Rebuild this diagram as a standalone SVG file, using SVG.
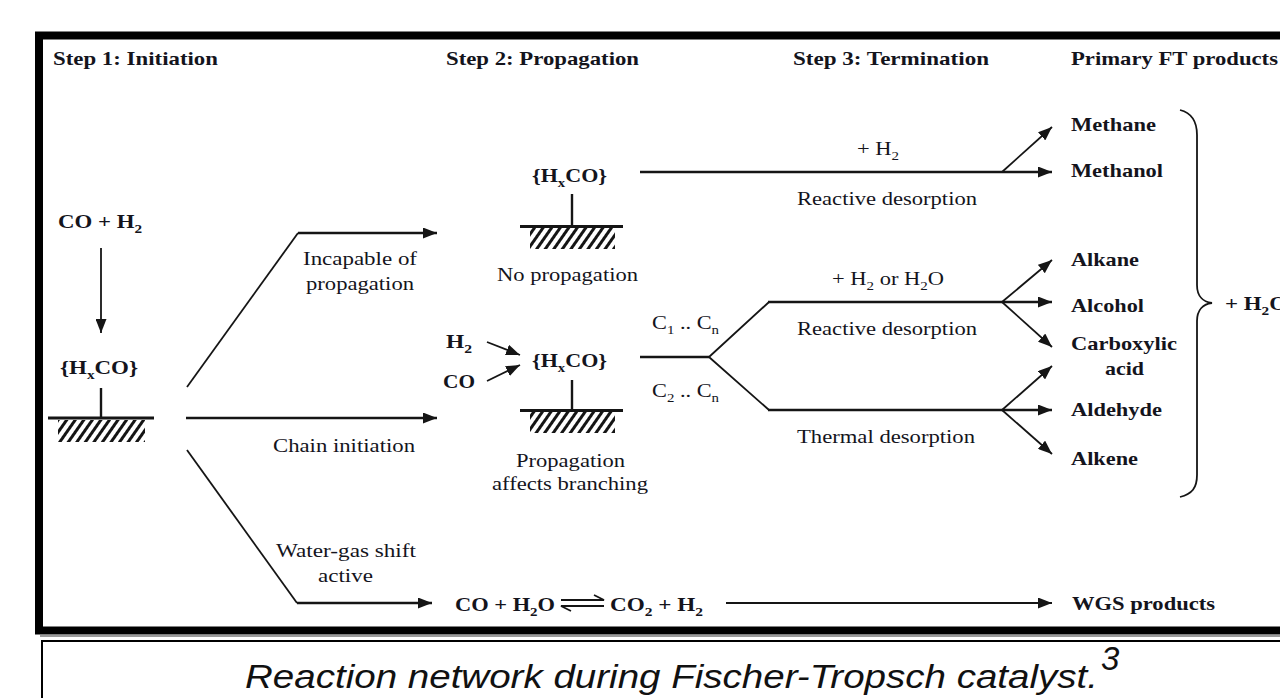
<svg xmlns="http://www.w3.org/2000/svg" width="1280" height="698" viewBox="0 0 1280 698">
<style>
.t{font-family:"Liberation Serif","Times New Roman",serif;font-size:19.5px;fill:#14141c}
.b{font-weight:bold}
.s{font-size:13px}
.ln{stroke:#151515;stroke-width:2.4;fill:none}
.dg{stroke:#151515;stroke-width:1.8;fill:none}
.surf{stroke:#151515;stroke-width:3;fill:none}
.cap{font-family:"Liberation Sans",Arial,sans-serif;font-style:italic;font-size:33px;fill:#111}
</style>
<defs>
<marker id="ah" markerUnits="userSpaceOnUse" markerWidth="14" markerHeight="11" refX="14" refY="5.5" orient="auto">
<path d="M0,0 L14,5.5 L0,11 z" fill="#151515"/>
</marker>
<pattern id="hatch" patternUnits="userSpaceOnUse" width="7" height="7" patternTransform="rotate(35)">
<rect width="3" height="7" fill="#151515"/>
</pattern>
</defs>
<rect width="1280" height="698" fill="#fff"/>
<!-- frame -->
<rect x="39" y="35.5" width="1300" height="595" fill="none" stroke="#000" stroke-width="8"/>
<line x1="40" y1="636" x2="1280" y2="636" stroke="#9a9a9a" stroke-width="2"/>

<g id="headers">
<text class="t b" x="53" y="65" textLength="165" lengthAdjust="spacingAndGlyphs">Step 1: Initiation</text>
<text class="t b" x="446" y="65" textLength="193" lengthAdjust="spacingAndGlyphs">Step 2: Propagation</text>
<text class="t b" x="793" y="65" textLength="196" lengthAdjust="spacingAndGlyphs">Step 3: Termination</text>
<text class="t b" x="1071" y="65" textLength="207" lengthAdjust="spacingAndGlyphs">Primary FT products</text>
</g>

<g id="co-h2">
<text class="t b" x="58" y="228" textLength="84" lengthAdjust="spacingAndGlyphs">CO + H<tspan class="s" dy="5">2</tspan></text>
</g>

<g id="adsorbed-initiation">
<text class="t b" x="60" y="374" textLength="78" lengthAdjust="spacingAndGlyphs">{H<tspan class="s" dy="5">x</tspan><tspan dy="-5">CO}</tspan></text>
<line class="ln" x1="101" y1="388" x2="101" y2="417"/>
<rect x="58" y="420" width="87" height="22" fill="url(#hatch)"/>
<line class="surf" x1="48" y1="418" x2="154" y2="418"/>
</g>

<g id="adsorbed-noprop">
<text class="t b" x="532" y="182" textLength="75" lengthAdjust="spacingAndGlyphs">{H<tspan class="s" dy="5">x</tspan><tspan dy="-5">CO}</tspan></text>
<line class="ln" x1="572" y1="194" x2="572" y2="225"/>
<rect x="530" y="228" width="85" height="21" fill="url(#hatch)"/>
<line class="surf" x1="520" y1="226.5" x2="623" y2="226.5"/>
<text class="t" x="497" y="281" textLength="141" lengthAdjust="spacingAndGlyphs">No propagation</text>
</g>

<g id="adsorbed-prop">
<text class="t b" x="446" y="348" textLength="26" lengthAdjust="spacingAndGlyphs">H<tspan class="s" dy="5">2</tspan></text>
<text class="t b" x="443" y="388" textLength="32" lengthAdjust="spacingAndGlyphs">CO</text>
<text class="t b" x="532" y="367" textLength="75" lengthAdjust="spacingAndGlyphs">{H<tspan class="s" dy="5">x</tspan><tspan dy="-5">CO}</tspan></text>
<line class="ln" x1="572" y1="380" x2="572" y2="409"/>
<rect x="530" y="412" width="85" height="21" fill="url(#hatch)"/>
<line class="surf" x1="520" y1="410.5" x2="623" y2="410.5"/>
<text class="t" x="516" y="467" textLength="109" lengthAdjust="spacingAndGlyphs">Propagation</text>
<text class="t" x="492" y="490" textLength="156" lengthAdjust="spacingAndGlyphs">affects branching</text>
</g>

<g id="wgs-equation">
<text class="t b" x="455" y="611" textLength="100" lengthAdjust="spacingAndGlyphs">CO + H<tspan class="s" dy="5">2</tspan><tspan dy="-5">O</tspan></text>
<path class="dg" d="M561,600 H604 L594,595"/>
<path class="dg" d="M604,606 H561 L571,611"/>
<text class="t b" x="610" y="611" textLength="93" lengthAdjust="spacingAndGlyphs">CO<tspan class="s" dy="5">2</tspan><tspan dy="-5"> + H</tspan><tspan class="s" dy="5">2</tspan></text>
</g>

<g id="products">
<text class="t b" x="1071" y="131" textLength="85" lengthAdjust="spacingAndGlyphs">Methane</text>
<text class="t b" x="1071" y="177" textLength="92" lengthAdjust="spacingAndGlyphs">Methanol</text>
<text class="t b" x="1071" y="266" textLength="68" lengthAdjust="spacingAndGlyphs">Alkane</text>
<text class="t b" x="1071" y="312" textLength="73" lengthAdjust="spacingAndGlyphs">Alcohol</text>
<text class="t b" x="1071" y="350" textLength="106" lengthAdjust="spacingAndGlyphs">Carboxylic</text>
<text class="t b" x="1105" y="375" textLength="39" lengthAdjust="spacingAndGlyphs">acid</text>
<text class="t b" x="1071" y="416" textLength="91" lengthAdjust="spacingAndGlyphs">Aldehyde</text>
<text class="t b" x="1071" y="465" textLength="67" lengthAdjust="spacingAndGlyphs">Alkene</text>
</g>

<g id="water">
<path class="dg" d="M1180,110 C1192,113 1197,122 1197,135 L1197,285 C1197,296 1203,302 1212,303 C1203,304 1197,310 1197,321 L1197,475 C1197,488 1192,494 1180,497"/>
<text class="t b" x="1225" y="310" textLength="62" lengthAdjust="spacingAndGlyphs">+ H<tspan class="s" dy="5">2</tspan><tspan dy="-5">O</tspan></text>
</g>

<g id="wgs-products">
<text class="t b" x="1072" y="610" textLength="143" lengthAdjust="spacingAndGlyphs">WGS products</text>
</g>

<g id="connectors">
<line class="dg" x1="101" y1="248" x2="101" y2="333" marker-end="url(#ah)"/>
<path class="dg" d="M187,387 L298,233" />
<path class="ln" d="M298,233 H437" marker-end="url(#ah)"/>
<path class="ln" d="M186,418 H437" marker-end="url(#ah)"/>
<path class="dg" d="M187,450 L297,603"/>
<path class="ln" d="M297,603 H432" marker-end="url(#ah)"/>
<path class="dg" d="M487,342 L520,355" marker-end="url(#ah)"/>
<path class="dg" d="M487,381 L520,365" marker-end="url(#ah)"/>
<path class="ln" d="M640,172 H1052" marker-end="url(#ah)"/>
<path class="dg" d="M1002,172 L1052,127" marker-end="url(#ah)"/>
<path class="ln" d="M640,357 H709"/>
<path class="dg" d="M709,357 L769,302 M709,357 L769,410"/>
<path class="ln" d="M768,302 H1052" marker-end="url(#ah)"/>
<path class="dg" d="M1002,302 L1052,260" marker-end="url(#ah)"/>
<path class="dg" d="M1002,302 L1052,347" marker-end="url(#ah)"/>
<path class="ln" d="M768,410 H1052" marker-end="url(#ah)"/>
<path class="dg" d="M1002,410 L1052,366" marker-end="url(#ah)"/>
<path class="dg" d="M1002,410 L1052,454" marker-end="url(#ah)"/>
<path class="dg" d="M726,603 H1052" marker-end="url(#ah)"/>
</g>

<g id="labels">
<text class="t" x="303" y="265" textLength="114" lengthAdjust="spacingAndGlyphs">Incapable of</text>
<text class="t" x="306" y="290" textLength="108" lengthAdjust="spacingAndGlyphs">propagation</text>
<text class="t" x="273" y="452" textLength="142" lengthAdjust="spacingAndGlyphs">Chain initiation</text>
<text class="t" x="276" y="557" textLength="140" lengthAdjust="spacingAndGlyphs">Water-gas shift</text>
<text class="t" x="318" y="582" textLength="55" lengthAdjust="spacingAndGlyphs">active</text>
<text class="t" x="857" y="155" textLength="42" lengthAdjust="spacingAndGlyphs">+ H<tspan class="s" dy="5">2</tspan></text>
<text class="t" x="797" y="205" textLength="180" lengthAdjust="spacingAndGlyphs">Reactive desorption</text>
<text class="t" x="652" y="329" textLength="67" lengthAdjust="spacingAndGlyphs">C<tspan class="s" dy="5">1</tspan><tspan dy="-5"> .. C</tspan><tspan class="s" dy="5">n</tspan></text>
<text class="t" x="652" y="397" textLength="67" lengthAdjust="spacingAndGlyphs">C<tspan class="s" dy="5">2</tspan><tspan dy="-5"> .. C</tspan><tspan class="s" dy="5">n</tspan></text>
<text class="t" x="832" y="285" textLength="112" lengthAdjust="spacingAndGlyphs">+ H<tspan class="s" dy="5">2</tspan><tspan dy="-5"> or H</tspan><tspan class="s" dy="5">2</tspan><tspan dy="-5">O</tspan></text>
<text class="t" x="797" y="335" textLength="180" lengthAdjust="spacingAndGlyphs">Reactive desorption</text>
<text class="t" x="797" y="443" textLength="178" lengthAdjust="spacingAndGlyphs">Thermal desorption</text>
</g>

<g id="caption">
<rect x="42" y="641" width="1300" height="100" fill="none" stroke="#000" stroke-width="2"/>
<text class="cap" x="245" y="688" textLength="853" lengthAdjust="spacingAndGlyphs">Reaction network during Fischer-Tropsch catalyst.</text>
<text class="cap" x="1101" y="670" font-size="21">3</text>
</g>
</svg>
